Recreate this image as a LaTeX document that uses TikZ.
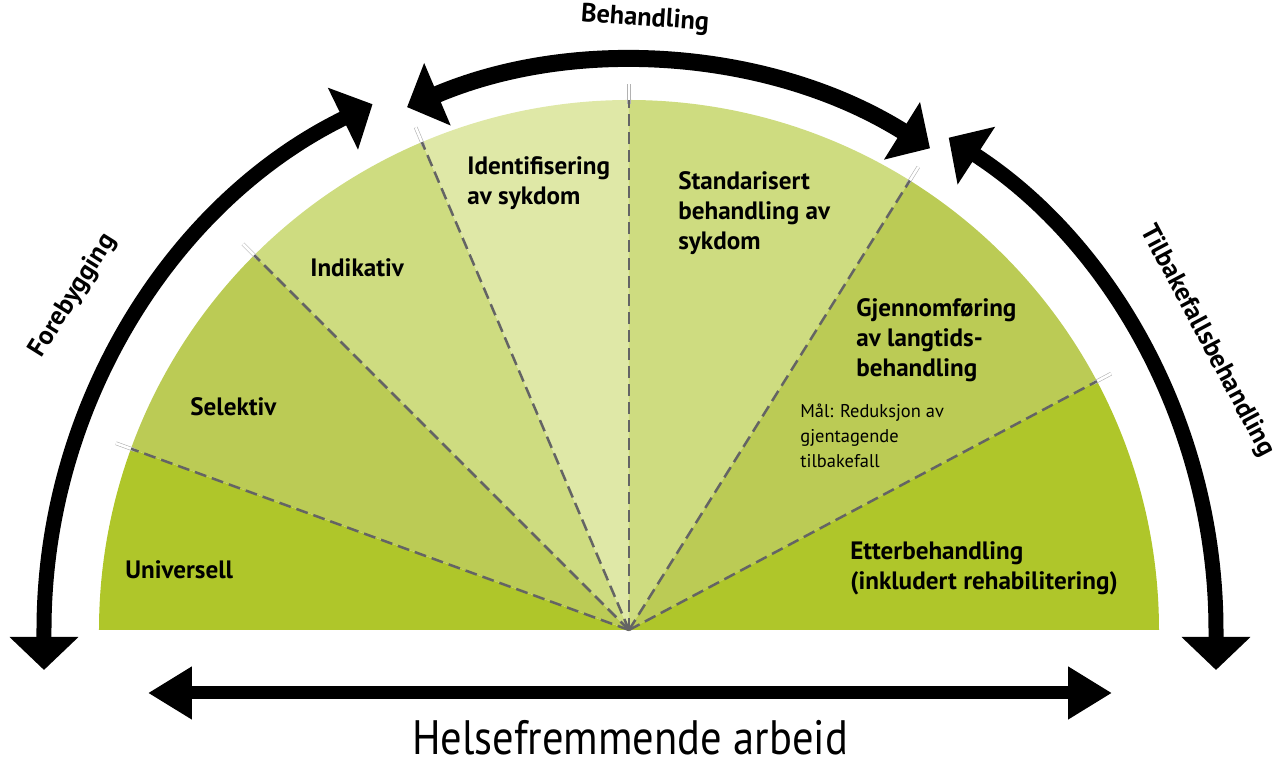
\documentclass[tikz,border=0pt]{standalone}
\usepackage{fontspec}
\setmainfont{PT Sans}
\usetikzlibrary{arrows.meta}
\definecolor{GreenA}{RGB}{175,198,42}
\definecolor{GreenB}{RGB}{187,203,85}
\definecolor{GreenC}{RGB}{206,220,128}
\definecolor{GreenD}{RGB}{223,232,167}
\definecolor{DashGrey}{RGB}{100,100,100}

\begin{document}
\begin{tikzpicture}[
    x=0.02cm, y=0.02cm,
    divider/.style={draw=DashGrey, line width=0.05cm, dash pattern=on 0.24cm off 0.12cm},
    rimtick/.style={draw=black!30, line width=0.012cm, double=white, double distance=0.05cm},
    phase/.style={font=\bfseries\fontsize{14.3}{17}\selectfont, align=left, inner sep=0pt, anchor=north west},
    goal/.style={font=\fontsize{10.5}{14.2}\selectfont, align=left, inner sep=0pt, anchor=north west},
    span/.style={font=\bfseries\fontsize{15}{17}\selectfont, inner sep=0pt},
    sidearc/.style={line width=0.3cm, {Triangle[length=0.66cm,width=1.34cm]}-{Triangle[length=0.66cm,width=1.34cm]}},
    toparc/.style={line width=0.34cm, {Triangle[length=0.66cm,width=1.32cm]}-{Triangle[length=0.66cm,width=1.32cm]}},
    baseline arrow/.style={line width=0.26cm, {Triangle[length=0.88cm,width=1.0cm]}-{Triangle[length=0.88cm,width=1.0cm]}}
]
\useasboundingbox (-629,-136) rectangle (649,630);
\coordinate (o) at (0,0);

% sectors of the half circle
\fill[GreenA] (o) -- (180:530) arc[start angle=180, end angle=160, radius=530] -- cycle;
\fill[GreenB] (o) -- (160:530) arc[start angle=160, end angle=135, radius=530] -- cycle;
\fill[GreenC] (o) -- (135:530) arc[start angle=135, end angle=113, radius=530] -- cycle;
\fill[GreenD] (o) -- (113:530) arc[start angle=113, end angle=90, radius=530] -- cycle;
\fill[GreenC] (o) -- (90:530) arc[start angle=90, end angle=58, radius=530] -- cycle;
\fill[GreenB] (o) -- (58:530) arc[start angle=58, end angle=28, radius=530] -- cycle;
\fill[GreenA] (o) -- (28:530) arc[start angle=28, end angle=0, radius=530] -- cycle;

% dashed dividers
\draw[rimtick] (160:526) -- (160:546);
\draw[rimtick] (135:526) -- (135:546);
\draw[rimtick] (113:526) -- (113:546);
\draw[rimtick] (90:526) -- (90:546);
\draw[rimtick] (58:526) -- (58:546);
\draw[rimtick] (28:526) -- (28:546);
\draw[divider] (o) -- (160:530);
\draw[divider] (o) -- (135:530);
\draw[divider] (o) -- (113:530);
\draw[divider] (o) -- (90:530);
\draw[divider] (o) -- (58:530);
\draw[divider] (o) -- (28:530);

% sector labels
\node[phase] (universell) at (-504,70) {Universell};
\node[phase] (selektiv) at (-439,233) {Selektiv};
\node[phase] (indikativ) at (-319,372) {Indikativ};
\node[phase] (identifisering) at (-162,474) {Identifisering\\av sykdom};
\node[phase] (standard) at (49,459) {Standarisert\\behandling av\\sykdom};
\node[phase] (langtid) at (227,332) {Gjennomføring\\av langtids-\\behandling};
\node[goal] (maal) at (171,226) {Mål: Reduksjon av\\gjentagende\\tilbakefall};
\node[phase] (etter) at (221,89) {Etterbehandling\\(inkludert rehabilitering)};

% arrows round the half circle
\draw[sidearc] (-585,-40) -- (-585,0) arc[start angle=180, end angle=116, radius=585];
\draw[sidearc] (587,-40) -- (587,0) arc[start angle=0, end angle=57, radius=587];
\draw[toparc] (113:568) arc[start angle=113, end angle=58, radius=568];
\draw[baseline arrow] (-481,-63) -- (483,-63);

\node[span, rotate=58] (forebygging) at (-556,334) {Forebygging};
\node[span, rotate=-4] (behandling) at (16,611) {Behandling};
\node[span, rotate=-62] (tilbakefall) at (578,289) {Tilbakefallsbehandling};
\node[font=\fontsize{27.5}{30}\selectfont, xscale=0.88, inner sep=0pt] (helse) at (1,-108) {Helsefremmende arbeid};
\end{tikzpicture}
\end{document}
